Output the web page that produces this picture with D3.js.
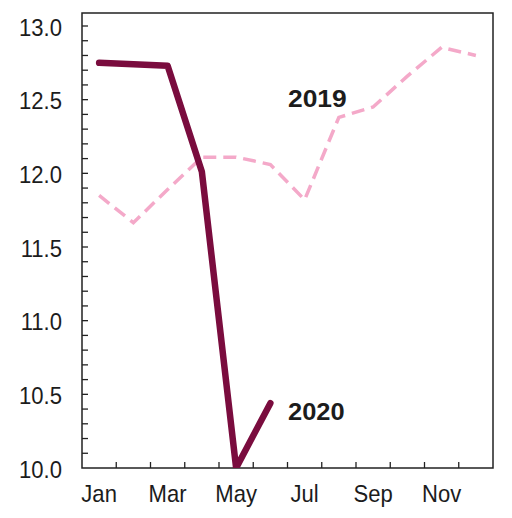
<!DOCTYPE html>
<html>
<head>
<meta charset="utf-8">
<script src="https://cdn.jsdelivr.net/npm/d3@7"></script>
<style>
  html, body { margin: 0; padding: 0; background: #fff; }
  svg { display: block; }
  text { font-family: "Liberation Sans", Arial, sans-serif; fill: #1c1c1c; }
</style>
</head>
<body>
<svg id="chart" width="512" height="518"></svg>
<script>
// Monthly values for each year
const months = ["Jan","Feb","Mar","Apr","May","Jun","Jul","Aug","Sep","Oct","Nov","Dec"];
const values2019 = [11.85, 11.665, 11.89, 12.11, 12.11, 12.06, 11.82, 12.38, 12.45, 12.66, 12.855, 12.80];
const values2020 = [12.75, 12.74, 12.73, 12.01, 10.0, 10.44];
const yTicks = [10.0, 10.5, 11.0, 11.5, 12.0, 12.5, 13.0];
const xLabelMonths = ["Jan","Mar","May","Jul","Sep","Nov"];

const svg = d3.select("#chart");
const box = { left: 82, top: 13, right: 493, bottom: 468 };

const x = d3.scaleLinear().domain([0, 12]).range([box.left, box.right]);
const y = d3.scaleLinear().domain([10, 13]).range([box.bottom, 26]);

// clip so the 2020 dip does not spill under the axis
svg.append("clipPath").attr("id", "plotclip")
  .append("rect")
  .attr("x", box.left).attr("y", box.top)
  .attr("width", box.right - box.left).attr("height", box.bottom - box.top);

// minor y ticks every 0.1, pointing inward
const minorY = d3.range(101, 131).map(d => d / 10);
svg.append("g").selectAll("line").data(minorY)
  .join("line")
  .attr("x1", box.left).attr("x2", box.left + 6)
  .attr("y1", d => y(d)).attr("y2", d => y(d))
  .attr("stroke", "#222").attr("stroke-width", 1.3);

// x ticks at month boundaries, pointing inward
svg.append("g").selectAll("line").data(d3.range(1, 12))
  .join("line")
  .attr("x1", d => x(d)).attr("x2", d => x(d))
  .attr("y1", box.bottom).attr("y2", box.bottom - 6)
  .attr("stroke", "#222").attr("stroke-width", 1.3);

// plot frame
svg.append("rect")
  .attr("x", box.left).attr("y", box.top)
  .attr("width", box.right - box.left).attr("height", box.bottom - box.top)
  .attr("fill", "none").attr("stroke", "#222").attr("stroke-width", 1.5);

// y tick labels
svg.append("g").selectAll("text").data(yTicks)
  .join("text")
  .attr("transform", d => `translate(62,${y(d) + 9.5}) scale(0.92,1)`)
  .attr("text-anchor", "end")
  .attr("font-size", 24)
  .text(d => d.toFixed(1));

// x labels centred on each month
svg.append("g").selectAll("text").data(xLabelMonths)
  .join("text")
  .attr("transform", d => `translate(${x(months.indexOf(d) + 0.5)},502) scale(0.92,1)`)
  .attr("text-anchor", "middle")
  .attr("font-size", 24)
  .text(d => d);

const line = d3.line()
  .x((d, i) => x(i + 0.5))
  .y(d => y(d));

const plot = svg.append("g").attr("clip-path", "url(#plotclip)");

plot.append("path")
  .datum(values2019)
  .attr("d", line)
  .attr("fill", "none")
  .attr("stroke", "#f4a9c9")
  .attr("stroke-width", 3.5)
  .attr("stroke-dasharray", "13,7");

plot.append("path")
  .datum(values2020)
  .attr("d", line)
  .attr("fill", "none")
  .attr("stroke", "#7a0c3e")
  .attr("stroke-width", 6.5)
  .attr("stroke-linejoin", "round")
  .attr("stroke-linecap", "round");

// series labels
svg.append("text")
  .attr("transform", "translate(288,106.5) scale(1.1,1)")
  .attr("font-size", 24).attr("font-weight", "bold")
  .text("2019");

svg.append("text")
  .attr("transform", "translate(288,419.5) scale(1.06,1)")
  .attr("font-size", 24).attr("font-weight", "bold")
  .text("2020");
</script>
</body>
</html>
